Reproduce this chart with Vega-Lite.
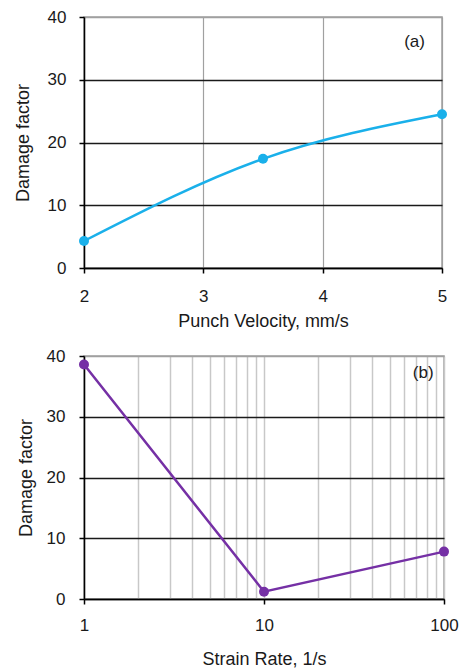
{
  "$schema": "https://vega.github.io/schema/vega-lite/v6.json",
  "padding": {"top": 7, "left": 13, "right": 10, "bottom": 5},
  "background": "white",
  "spacing": 15,
  "config": {
    "font": "Liberation Sans",
    "view": {"stroke": "#a0a0a0", "strokeWidth": 1.5},
    "axis": {
      "labelFont": "Liberation Sans",
      "titleFont": "Liberation Sans",
      "labelFontSize": 17,
      "titleFontSize": 18,
      "titleFontWeight": "normal",
      "labelColor": "#1a1a1a",
      "titleColor": "#1a1a1a",
      "domainColor": "#000000",
      "domainWidth": 1.5,
      "tickColor": "#000000",
      "tickWidth": 1.5,
      "tickSize": 5,
      "labelFlush": false,
      "labelOverlap": false
    }
  },
  "vconcat": [
    {
      "width": 358,
      "height": 251,
      "data": {"values": [
        {"velocity": 2, "damage": 4.3},
        {"velocity": 3.5, "damage": 17.4},
        {"velocity": 5, "damage": 24.5}
      ]},
      "layer": [
        {
          "mark": {"type": "line", "interpolate": "natural", "color": "#1ab0ea", "strokeWidth": 2.5},
          "encoding": {
            "x": {"field": "velocity", "type": "quantitative",
              "scale": {"domain": [2, 5], "nice": false, "zero": false},
              "axis": {"title": "Punch Velocity, mm/s", "values": [2, 3, 4, 5], "format": "d", "grid": true,
                "gridColor": "#a0a0a0", "gridWidth": 1.2, "labelPadding": 15, "titlePadding": 8}},
            "y": {"field": "damage", "type": "quantitative",
              "scale": {"domain": [0, 40], "nice": false},
              "axis": {"title": "Damage factor", "values": [0, 10, 20, 30, 40], "grid": true,
                "gridColor": {"condition": {"test": "datum.value == 40", "value": "#a0a0a0"}, "value": "#1a1a1a"},
                "gridWidth": 1.5, "labelPadding": 13, "titlePadding": 15}}
          }
        },
        {
          "mark": {"type": "point", "filled": true, "size": 100, "color": "#1ab0ea", "opacity": 1},
          "encoding": {
            "x": {"field": "velocity", "type": "quantitative"},
            "y": {"field": "damage", "type": "quantitative"}
          }
        },
        {
          "data": {"values": [{"velocity": 4.77, "damage": 36, "label": "(a)"}]},
          "mark": {"type": "text", "fontSize": 17, "color": "#1a1a1a", "font": "Liberation Sans"},
          "encoding": {
            "x": {"field": "velocity", "type": "quantitative"},
            "y": {"field": "damage", "type": "quantitative"},
            "text": {"field": "label"}
          }
        }
      ]
    },
    {
      "width": 360,
      "height": 243,
      "data": {"values": [
        {"strain_rate": 1, "damage": 38.6},
        {"strain_rate": 10, "damage": 1.2},
        {"strain_rate": 100, "damage": 7.8}
      ]},
      "layer": [
        {
          "mark": {"type": "line", "color": "#7530a5", "strokeWidth": 2.5},
          "encoding": {
            "x": {"field": "strain_rate", "type": "quantitative",
              "scale": {"type": "log", "domain": [1, 100], "nice": false},
              "axis": {"title": "Strain Rate, 1/s",
                "values": [1, 2, 3, 4, 5, 6, 7, 8, 9, 10, 20, 30, 40, 50, 60, 70, 80, 90, 100],
                "labelExpr": "indexof([1, 10, 100], datum.value) >= 0 ? format(datum.value, 'd') : ''",
                "tickOpacity": {"condition": {"test": "indexof([1, 10, 100], datum.value) >= 0", "value": 1}, "value": 0},
                "grid": true, "gridColor": "#c8c8c8", "gridWidth": 1.5,
                "labelPadding": 13, "titlePadding": 17}},
            "y": {"field": "damage", "type": "quantitative",
              "scale": {"domain": [0, 40], "nice": false},
              "axis": {"title": "Damage factor", "values": [0, 10, 20, 30, 40], "grid": true,
                "gridColor": {"condition": {"test": "datum.value == 40", "value": "#a0a0a0"}, "value": "#1a1a1a"},
                "gridWidth": 1.5, "labelPadding": 14, "titlePadding": 11}}
          }
        },
        {
          "mark": {"type": "point", "filled": true, "size": 100, "color": "#7530a5", "opacity": 1},
          "encoding": {
            "x": {"field": "strain_rate", "type": "quantitative"},
            "y": {"field": "damage", "type": "quantitative"}
          }
        },
        {
          "data": {"values": [{"strain_rate": 76.7, "damage": 37.2, "label": "(b)"}]},
          "mark": {"type": "text", "fontSize": 17, "color": "#1a1a1a", "font": "Liberation Sans"},
          "encoding": {
            "x": {"field": "strain_rate", "type": "quantitative"},
            "y": {"field": "damage", "type": "quantitative"},
            "text": {"field": "label"}
          }
        }
      ]
    }
  ]
}
